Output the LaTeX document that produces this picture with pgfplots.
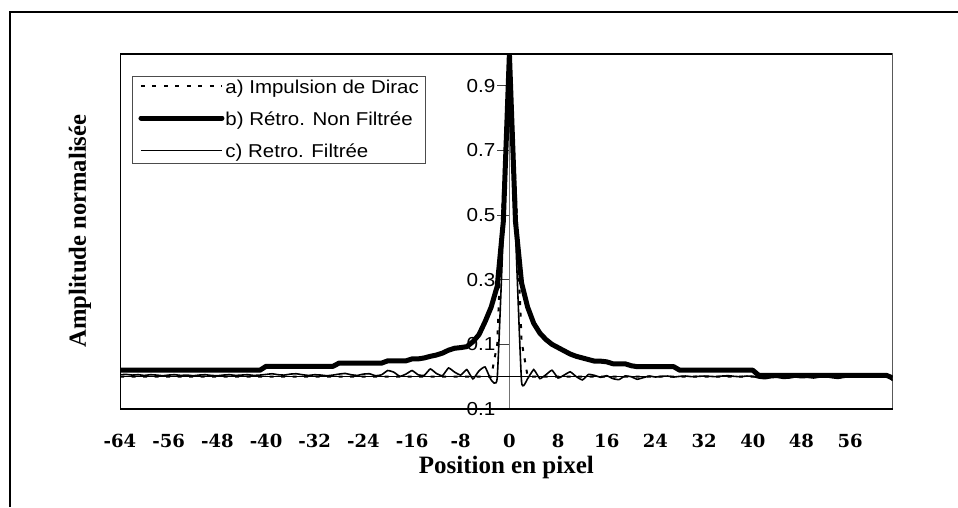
\documentclass[border=0pt]{standalone}
\usepackage{fontspec}
\setmainfont{Liberation Serif}
\newfontfamily\lsans[FakeStretch=1.1]{Liberation Sans}
\newfontfamily\dvserif{DejaVu Serif}
\usepackage{pgfplots}
\usepackage{pgfplotstable}
\pgfplotsset{compat=1.18}

\pgfplotstableread{
x a b c
-64 0 0.02 0.006
-63 0 0.02 0.007
-62 0 0.02 0.005
-61 0 0.02 0.006
-60 0 0.02 0.004
-59 0 0.02 0.006
-58 0 0.02 0.005
-57 0 0.02 0.003
-56 0 0.02 0.005
-55 0 0.02 0.006
-54 0 0.02 0.004
-53 0 0.02 0.005
-52 0 0.02 0.003
-51 0 0.02 0.005
-50 0 0.02 0.006
-49 0 0.02 0.004
-48 0 0.02 0.003
-47 0 0.02 0.005
-46 0 0.02 0.006
-45 0 0.02 0.004
-44 0 0.02 0.005
-43 0 0.02 0.006
-42 0 0.02 0.004
-41 0 0.02 0.005
-40 0 0.032 0.007
-39 0 0.032 0.009
-38 0 0.032 0.006
-37 0 0.032 0.005
-36 0 0.032 0.008
-35 0 0.032 0.009
-34 0 0.032 0.006
-33 0 0.032 0.004
-32 0 0.032 0.006
-31 0 0.032 0.005
-30 0 0.032 0.003
-29 0 0.032 0.005
-28 0 0.042 0.008
-27 0 0.042 0.010
-26 0 0.042 0.006
-25 0 0.042 0.004
-24 0 0.042 0.008
-23 0 0.042 0.009
-22 0 0.042 0.003
-21 0 0.042 0.006
-20 0 0.049 0.019
-19 0 0.049 0.014
-18 0 0.049 0.001
-17 0 0.049 0.008
-16 0 0.055 0.019
-15 0 0.055 0.006
-14 0 0.058 0.004
-13 0 0.063 0.024
-12 0 0.067 0.010
-11 0 0.073 0.003
-10 0 0.082 0.027
-9 0 0.088 0.014
-8 0 0.090 0.005
-7 0 0.093 0.022
-6 0 0.108 -0.007
-5 0 0.130 0.018
-4 0 0.170 0.030
-3 0 0.215 -0.010
-2 0.10 0.280 -0.004
-1 0.60 0.480 0.450
0 1 1 1
1 0.60 0.480 0.450
2 0.11 0.290 -0.016
3 0 0.215 -0.006
4 0 0.165 0.022
5 0 0.135 -0.006
6 0 0.115 0.006
7 0 0.100 0.020
8 0 0.090 -0.004
9 0 0.080 0.005
10 0 0.070 0.015
11 0 0.063 0.000
12 0 0.058 -0.010
13 0 0.053 0.007
14 0 0.048 0.004
15 0 0.048 -0.002
16 0 0.046 0.003
17 0 0.040 -0.006
18 0 0.040 -0.009
19 0 0.040 0.002
20 0 0.034 0.000
21 0 0.031 -0.008
22 0 0.031 -0.003
23 0 0.031 0.002
24 0 0.031 -0.001
25 0 0.031 0.001
26 0 0.031 0.002
27 0 0.031 -0.001
28 0 0.020 0.001
29 0 0.020 0.002
30 0 0.020 0.000
31 0 0.020 0.001
32 0 0.020 0.002
33 0 0.020 0.001
34 0 0.020 0.000
35 0 0.020 0.002
36 0 0.020 0.003
37 0 0.020 0.001
38 0 0.020 0.000
39 0 0.020 0.002
40 0 0.020 0.001
41 0 0.004 -0.004
42 0 0.004 -0.006
43 0 0.004 -0.003
44 0 0.004 -0.002
45 0 0.004 -0.005
46 0 0.004 -0.004
47 0 0.004 -0.001
48 0 0.004 -0.003
49 0 0.004 -0.002
50 0 0.004 -0.004
51 0 0.004 -0.001
52 0 0.004 0.000
53 0 0.004 -0.003
54 0 0.004 -0.005
55 0 0.004 -0.002
56 0 0.004 0.001
57 0 0.004 0.002
58 0 0.004 0.001
59 0 0.004 0.002
60 0 0.004 0.002
61 0 0.004 0.001
62 0 0.004 0.002
63 0 -0.004 -0.012
}\datatable

\begin{document}
\begin{tikzpicture}
\useasboundingbox (0pt,0pt) rectangle (958pt,507pt);
\draw[line width=2pt] (10pt,0pt) -- (10pt,495pt) -- (958pt,495pt);
\begin{axis}[
  at={(120pt,98pt)}, anchor=south west,
  scale only axis, width=772.7pt, height=355.5pt,
  xmin=-64, xmax=63, ymin=-0.1, ymax=1,
  axis x line=bottom, axis y line=middle,
  x axis line style={-, line width=2.2pt},
  y axis line style={-, draw=black!55, line width=0.9pt},
  hide obscured x ticks=false, hide obscured y ticks=false,
  xtick={-64,-56,...,56},
  xticklabels={-64,-56,-48,-40,-32,-24,-16,-8,0,8,16,24,32,40,48,56},
  ytick={-0.1,0.1,0.3,0.5,0.7,0.9},
  yticklabels={0.1,0.1,0.3,0.5,0.7,0.9},
  xtick style={draw=none},
  ytick style={draw=black!75, line width=0.8pt, xshift=-6pt},
  major tick length=12pt, tick align=center,
  xticklabel style={font=\dvserif\bfseries\fontsize{18}{20}\selectfont, anchor=base, yshift=-32.3pt},
  yticklabel style={font=\lsans\fontsize{18.8}{20}\selectfont, anchor=east, xshift=-4.5pt},
  every axis x label/.style={at={(axis description cs:0.5,-0.1809)}, anchor=base, font=\bfseries\fontsize{25}{28}\selectfont},
  every axis y label/.style={at={(axis description cs:-0.044,0.5)}, anchor=base, rotate=90, font=\bfseries\fontsize{24.6}{28}\selectfont},
  xlabel={Position en pixel},
  ylabel={Amplitude normalisée},
  legend cell align=left,
  legend image code/.code={\draw[#1] (0pt,2pt) -- (81pt,2pt);},
  legend style={at={(0.0155,0.9367)}, anchor=north west, draw=black!70, line width=1pt, fill=white,
    font=\lsans\fontsize{18.6}{22}\selectfont, inner xsep=6pt, inner ysep=0pt, row sep=9.9pt,
    nodes={inner xsep=1pt, inner ysep=0pt, text height=16.8pt, text depth=5.6pt}},
]
\draw[black, line width=2.2pt] (rel axis cs:0,0) rectangle (rel axis cs:1,1);
\draw[black, line width=1.5pt] (axis cs:-64,0) -- (axis cs:63,0);
\addplot[black, line width=2pt, dash pattern=on 4pt off 7.5pt] table[x=x, y=a] {\datatable};
\addlegendentry{a) Impulsion de Dirac}
\addplot[black, line width=5pt, line join=round, line cap=round] table[x=x, y=b] {\datatable};
\addlegendentry{b) Rétro. Non Filtrée}
\addplot[black, line width=1.6pt, smooth, tension=0.25] table[x=x, y=c] {\datatable};
\addlegendentry{c) Retro. Filtrée}
\end{axis}
\end{tikzpicture}
\end{document}
